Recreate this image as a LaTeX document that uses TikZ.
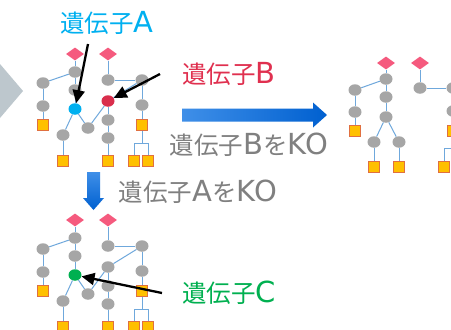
\documentclass[tikz,border=0pt]{standalone}
\usepackage{fontspec}
\newfontfamily\jpfont{Noto Sans CJK JP}
\newfontfamily\ltfont{DejaVu Sans}
\usetikzlibrary{shapes.geometric,arrows.meta}
\definecolor{edgec}{HTML}{6FA8DC}
\definecolor{grayn}{HTML}{A6A6A6}
\definecolor{diac}{HTML}{F55A7E}
\definecolor{sqfill}{HTML}{FFC000}
\definecolor{sqdraw}{HTML}{E07040}
\definecolor{geneA}{HTML}{00B0F0}
\definecolor{geneB}{HTML}{D92E4C}
\definecolor{geneC}{HTML}{00B050}
\definecolor{labB}{HTML}{E0304F}
\definecolor{txtgray}{HTML}{808080}
\definecolor{chev}{HTML}{BDC7CD}
\definecolor{arrL}{HTML}{3F8FE8}
\definecolor{arrR}{HTML}{0060D0}
\newcommand{\jt}[1]{{\fontsize{24.5}{26}\selectfont\jpfont #1}}
\newcommand{\lt}[1]{{\fontsize{29}{26}\selectfont\ltfont #1}}
\tikzset{
  gnode/.style={ellipse, minimum width=13pt, minimum height=11.5pt, inner sep=0pt, fill=grayn},
  dia/.style={diamond, minimum width=18pt, minimum height=13pt, inner sep=0pt, fill=diac},
  sq/.style={rectangle, minimum size=10.5pt, inner sep=0pt, fill=sqfill, draw=sqdraw, line width=0.8pt},
  edge/.style={draw=edgec, line width=1pt},
  callout/.style={draw=black, line width=2.3pt, -{Triangle[length=13pt,width=12pt]}},
  lab/.style={inner sep=0pt, anchor=center}
}
\newcommand{\netw}[2]{%
  \node[dia] (d1) at (75,54) {};
  \node[dia] (d2) at (108,54) {};
  \node[gnode] (g1) at (43,83) {};
  \node[gnode] (g2) at (43,106) {};
  \node[sq] (s1) at (43,125) {};
  \node[gnode] (g3) at (75,72) {};
  \node[gnode] (g4) at (75,90) {};
  \node[gnode, fill=#1] (A) at (75,109) {};
  \node[gnode] (g5) at (63,135) {};
  \node[sq] (s2) at (63,161) {};
  \node[gnode] (g6) at (88,128) {};
  \node[gnode] (g7) at (108,80) {};
  \node[gnode] (g8) at (142,80) {};
  \node[gnode, fill=#2] (B) at (108,101) {};
  \node[gnode] (g9) at (108,120) {};
  \node[gnode] (g10) at (108,138) {};
  \node[sq] (s3) at (108,161) {};
  \node[gnode] (g11) at (142,105) {};
  \node[sq] (s4) at (142,125) {};
  \coordinate (j) at (142,143);
  \node[sq] (s5) at (134,161) {};
  \node[sq] (s6) at (148,161) {};
  \draw[edge] (d1) -- (g3);
  \draw[edge] (g3) -- (g1);
  \draw[edge] (g1) -- (g2);
  \draw[edge] (g2) -- (s1);
  \draw[edge] (g3) -- (g4);
  \draw[edge] (g4) -- (A);
  \draw[edge] (A) -- (g5);
  \draw[edge] (g5) -- (s2);
  \draw[edge] (A) -- (g6);
  \draw[edge] (g6) -- (B);
  \draw[edge] (d2) -- (g7);
  \draw[edge] (g7) -- (g8);
  \draw[edge] (g8) -- (B);
  \draw[edge] (B) -- (g9);
  \draw[edge] (g9) -- (g10);
  \draw[edge] (g10) -- (s3);
  \draw[edge] (g8) -- (g11);
  \draw[edge] (g11) -- (s4);
  \draw[edge] (s4) -- (j);
  \draw[edge] (s5) |- (j);
  \draw[edge] (s6) |- (j);
}
\begin{document}
\begin{tikzpicture}[x=1pt,y=-1pt]
\useasboundingbox (0,0) rectangle (451,330);
\clip (0,0) rectangle (451,330);
\fill[white] (0,0) rectangle (451,330);
% chevron at left
\fill[chev] (-10,64) -- (0,64) -- (23,91) -- (0,118) -- (-10,118) -- cycle;
% top network
\begin{scope}[name prefix=top-]
  \netw{geneA}{geneB}
\end{scope}
% bottom network
\begin{scope}[shift={(0,166)}, name prefix=bot-]
  \netw{geneC}{grayn}
\end{scope}
% right network
\begin{scope}[name prefix=r-]
  \node[dia] (d1) at (386,63) {};
  \node[dia] (d2) at (420,63) {};
  \node[gnode] (g1) at (355,90) {};
  \node[gnode] (g2) at (355,112) {};
  \node[sq] (s1) at (355,131) {};
  \node[gnode] (g3) at (386,79) {};
  \node[gnode] (g4) at (386,97) {};
  \node[gnode] (g5) at (386,117) {};
  \node[gnode] (g6) at (374,142) {};
  \node[sq] (s2) at (374,167) {};
  \node[gnode] (g7) at (399,142) {};
  \node[sq] (s3) at (399,167) {};
  \node[gnode] (g8) at (420,88) {};
  \node[gnode] (g9) at (453,88) {};
  \node[gnode] (g10) at (453,111) {};
  \node[sq] (s4) at (453,131) {};
  \coordinate (j) at (453,148);
  \node[sq] (s5) at (444,167) {};
  \node[sq] (s6) at (458,167) {};
  \draw[edge] (d1) -- (g3);
  \draw[edge] (g3) -- (g1);
  \draw[edge] (g1) -- (g2);
  \draw[edge] (g2) -- (s1);
  \draw[edge] (g3) -- (g4);
  \draw[edge] (g4) -- (g5);
  \draw[edge] (g5) -- (g6);
  \draw[edge] (g5) -- (g7);
  \draw[edge] (g6) -- (s2);
  \draw[edge] (g7) -- (s3);
  \draw[edge] (d2) -- (g8);
  \draw[edge] (g8) -- (g9);
  \draw[edge] (g9) -- (g10);
  \draw[edge] (g10) -- (s4);
  \draw[edge] (s4) -- (j);
  \draw[edge] (s5) |- (j);
  \draw[edge] (s6) |- (j);
\end{scope}
% big blue arrows
\shade[left color=arrL, right color=arrR]
  (182,108.5) -- (313,108.5) -- (313,102.5) -- (327,115) -- (313,127.5) -- (313,121.5) -- (182,121.5) -- cycle;
\shade[top color=arrL, bottom color=arrR]
  (87,172) -- (100,172) -- (100,198) -- (104,198) -- (93.5,210) -- (83,198) -- (87,198) -- cycle;
% labels
\node[lab, text=geneA] (labA) at (107,23) {\jt{遺伝子}\lt{A}};
\node[lab, text=labB] (labBn) at (229,74) {\jt{遺伝子}\lt{B}};
\node[lab, text=txtgray] (koB) at (249,145) {\jt{遺伝子}\lt{B}\jt{を}\lt{KO}};
\node[lab, text=txtgray] (koA) at (198,192) {\jt{遺伝子}\lt{A}\jt{を}\lt{KO}};
\node[lab, text=geneC] (labC) at (229,293) {\jt{遺伝子}\lt{C}};
% black callout arrows
\coordinate (cA) at (88,44);
\coordinate (cB) at (160,74);
\coordinate (cC) at (162,293);
\draw[callout] (cA) -- (top-A);
\draw[callout] (cB) -- (top-B);
\draw[callout] (cC) -- (bot-A);
\end{tikzpicture}
\end{document}
